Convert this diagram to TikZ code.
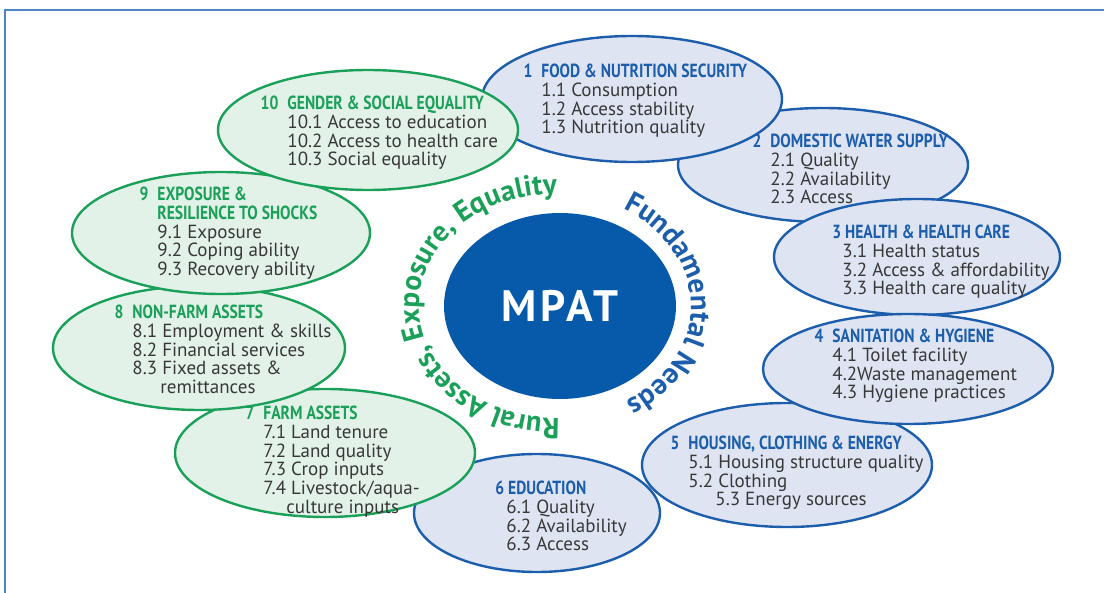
\documentclass[tikz,border=0pt]{standalone}
\usepackage{fontspec}
\setmainfont{PT Sans}
\newfontfamily\headfont{PT Sans}[FakeStretch=0.82]
\usetikzlibrary{shapes.geometric,decorations.text}

\definecolor{blueline}{HTML}{1C5EAB}
\definecolor{bluefill}{HTML}{DFE4F3}
\definecolor{greenline}{HTML}{1AA058}
\definecolor{greenfill}{HTML}{E2F2E8}
\definecolor{mpblue}{HTML}{0759A9}
\definecolor{framecol}{HTML}{4F84C4}
\definecolor{bodygray}{HTML}{383838}

% headings of the two groups
\newcommand\bh[1]{{\color{blueline}\headfont\bfseries #1}}
\newcommand\gh[1]{{\color{greenline}\headfont\bfseries #1}}

\begin{document}
\begin{tikzpicture}[x=0.5pt,y=0.5pt,
  ell/.style={ellipse,draw=#1line,fill=#1fill,line width=1.2pt,inner sep=0pt},
  items/.style={anchor=north west,align=left,inner sep=0pt,text=bodygray,
    font=\fontsize{9.5}{9.4}\selectfont}]
\useasboundingbox (0,0) rectangle (1104,-593);
\draw[framecol,line width=1pt] (5,-593) -- (5,-10) -- (1104,-10);

% the ten dimensions: number/x/y/rx/ry/group
\foreach \n/\x/\y/\rx/\ry/\g in {2/823/165/145/57/blue, 1/632/99/150/63/blue,
    3/917/257/143/58/blue, 5/787/465/145/62/blue, 4/908/369/145/55/blue,
    6/537/513/123/59/blue, 7/325/453/150/64/green, 8/199/348/146/62/green,
    9/221/233/149/61/green, 10/368/130/150/60/green}
  \node[ell=\g,minimum width=\rx pt,minimum height=\ry pt] (e\n) at (\x,-\y) {};

\node[items] (t1) at (541,-63.5) {\bh{\llap{1\hspace{4.5pt}}FOOD \& NUTRITION SECURITY}\\
  1.1 Consumption\\1.2 Access stability\\1.3 Nutrition quality};
\node[items] (t2) at (770,-133.5) {\bh{\llap{2\hspace{4.5pt}}DOMESTIC WATER SUPPLY}\\
  2.1 Quality\\2.2 Availability\\2.3 Access};
\node[items] (t3) at (832,-224.5) {\bh{3 HEALTH \& HEALTH CARE}\\
  \hspace*{5pt}3.1 Health status\\\hspace*{5pt}3.2 Access \& affordability\\
  \hspace*{5pt}3.3 Health care quality};
\node[items] (t4) at (832,-328.5) {\bh{\llap{4\hspace{4.5pt}}SANITATION \& HYGIENE}\\
  4.1 Toilet facility\\4.2Waste management\\4.3 Hygiene practices};
\node[items] (t5) at (688,-435.5) {\bh{\llap{5\hspace{4.5pt}}HOUSING, CLOTHING \& ENERGY}\\
  5.1 Housing structure quality\\5.2 Clothing\\\hspace*{13.5pt}5.3 Energy sources};
\node[items] (t6) at (495,-480.5) {\bh{6 EDUCATION}\\
  \hspace*{5.5pt}6.1 Quality\\\hspace*{5.5pt}6.2 Availability\\\hspace*{5.5pt}6.3 Access};
\node[items] (t7) at (263,-405.5) {\gh{\llap{7\hspace{4.5pt}}FARM ASSETS}\\
  7.1 Land tenure\\7.2 Land quality\\7.3 Crop inputs\\7.4 Livestock/aqua-\\
  \hspace*{11.5pt}culture inputs};
\node[items] (t8) at (132,-304.5) {\gh{\llap{8\hspace{4.5pt}}NON-FARM ASSETS}\\
  8.1 Employment \& skills\\8.2 Financial services\\8.3 Fixed assets \&\\
  \hspace*{14pt}remittances};
\node[items] (t9) at (157,-186.5) {\gh{\llap{9\hspace{4.5pt}}EXPOSURE \&}\\
  \gh{RESILIENCE TO SHOCKS}\\9.1 Exposure\\9.2 Coping ability\\9.3 Recovery ability};
\node[items] (t10) at (287,-95.5) {\gh{\llap{10\hspace{4.5pt}}GENDER \& SOCIAL EQUALITY}\\
  10.1 Access to education\\10.2 Access to health care\\10.3 Social equality};

% centre
\node[ellipse,fill=mpblue,inner sep=0pt,minimum width=116pt,minimum height=93pt,
  text=white,font=\fontsize{22}{22}\selectfont\bfseries\addfontfeature{LetterSpace=9}]
  (mpat) at (560,-306) {MPAT};

% texts round the centre
\coordinate (ring) at (555,-306);
\path[decorate,decoration={text along path,text align=left,
    text={|\fontsize{14.5}{16}\selectfont\bfseries\color{blueline}|Fundamental Needs}}]
  (ring) ++(60:136 and 112) arc[start angle=60,end angle=-140,x radius=136,y radius=112];
\path[decorate,decoration={text along path,text align=left,
    text={|\fontsize{14.5}{16}\selectfont\bfseries\color{greenline}|Rural Assets, Exposure, Equality}}]
  (ring) ++(-88:136 and 112) arc[start angle=-88,end angle=-320,x radius=136,y radius=112];
\end{tikzpicture}
\end{document}
